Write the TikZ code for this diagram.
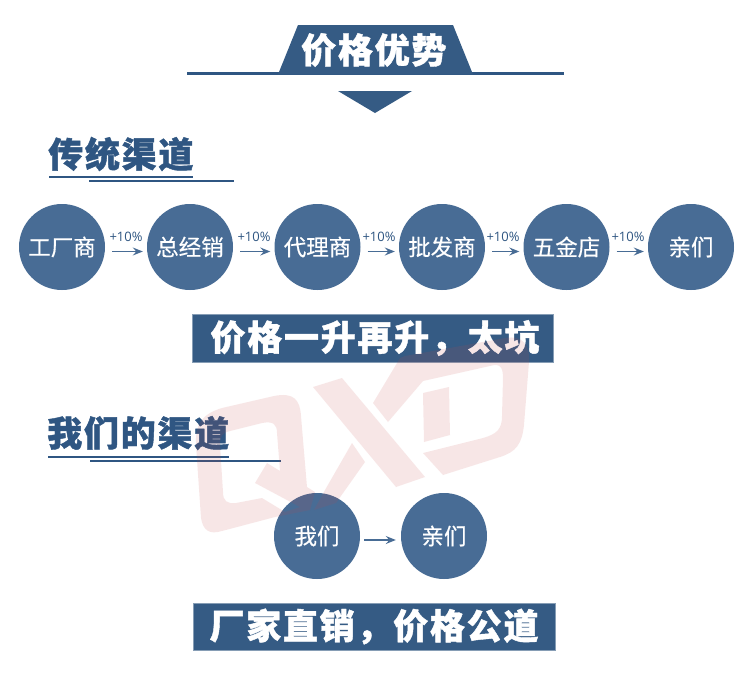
\documentclass[tikz,border=0pt]{standalone}
\usepackage{fontspec}
\usetikzlibrary{arrows.meta}
\setmainfont{Noto Sans CJK SC}
\newfontfamily\headfont[LetterSpace=5,BoldFeatures={FakeBold=1.2}]{Noto Sans CJK SC}
\newfontfamily\discfont[FakeBold=.4]{Noto Sans CJK SC}
\newfontfamily\pctfont{Open Sans}
\definecolor{bandblue}{HTML}{355B84}
\definecolor{discblue}{HTML}{486C95}
\definecolor{headblue}{HTML}{2F5682}
\definecolor{wm}{HTML}{C84444}
\tikzset{
  x=1pt,y=-1pt,
  disc/.style={circle,fill=discblue,minimum size=86pt,inner sep=0pt,text=white,font=\discfont\fontsize{22.5}{23}\selectfont},
  pct/.style={text=headblue,inner sep=0pt,font=\pctfont\fontsize{13}{13}\selectfont},
  flowline/.style={draw=discblue,line width=1.2pt,-{Stealth[length=10pt,width=8pt,inset=3.5pt]}},
  banner/.style={rectangle,fill=bandblue,draw=bandblue!60!white,line width=.6pt,inner sep=0pt,text=white,font=\headfont\bfseries\fontsize{35}{35}\selectfont},
  headtext/.style={inner sep=0pt,anchor=west,text=headblue,font=\headfont\bfseries\fontsize{35}{35}\selectfont},
  ruleline/.style={draw=headblue,line width=1.8pt},
  wmshape/.style={fill=wm,fill opacity=.13,even odd rule}
}
\begin{document}
\begin{tikzpicture}
\useasboundingbox[fill=white] (0,0) rectangle (750,673);
% title
\draw[draw=headblue,line width=2.4pt] (187,73.5) -- (564,73.5);
\fill[bandblue] (298,25) -- (453,25) -- (473,74.5) -- (278,74.5) -- cycle;
\node[headtext,text=white,font=\headfont\bfseries\fontsize{35}{35}\selectfont] (title) at (301,50) {价格优势};
\fill[bandblue] (338,91) -- (412,91) -- (375,113) -- cycle;
% traditional channel
\node[headtext] (h1) at (48,154) {传统渠道};
\draw[ruleline] (49,177) -- (193,177);
\draw[ruleline] (89,181) -- (234,181);
\node[disc] (a) at (62,247) {工厂商};
\node[disc] (b) at (190,247) {总经销};
\node[disc] (c) at (317.5,247) {代理商};
\node[disc] (d) at (442,247) {批发商};
\node[disc] (e) at (566.5,247) {五金店};
\node[disc] (f) at (691,247) {亲们};
\foreach \p/\q/\lx in {a/b/126,b/c/254,c/d/379,d/e/503,e/f/628}{
  \draw[flowline] ([shift={(7pt,-4.5pt)}]\p.east) -- ([shift={(-4pt,-4.5pt)}]\q.west);
  \node[pct] at (\lx,237) {+10\%};
}
\node[banner,minimum width=361pt,minimum height=48pt] (b1) at (372.5,338) {\hspace{5pt}价格一升再升，太坑};
% our channel
\node[headtext] (h2) at (47,433) {我们的渠道};
\draw[ruleline] (48,457) -- (229,457);
\draw[ruleline] (90,461) -- (281,461);
\node[disc] (g) at (317,536) {我们};
\node[disc] (h) at (444,536) {亲们};
\draw[flowline] ([shift={(4pt,-4pt)}]g.east) -- ([shift={(-5pt,-4pt)}]h.west);
\node[banner,minimum width=362pt,minimum height=47pt] (b2) at (374,626.5) {厂家直销，价格公道};
% watermark
\path[wmshape]
  (196,445) .. controls (195,424) and (202,414) .. (222,408) -- (274,396)
  .. controls (294,392) and (300,400) .. (301,416) -- (307,487) -- (315,492) -- (310,510) -- (275,517) -- (222,531)
  .. controls (209,535) and (203,530) .. (201,518) -- cycle
  (220,445) .. controls (220,436) and (222,433) .. (230,431) -- (262,423)
  .. controls (273,421) and (277,424) .. (277,433) -- (280,471) -- (267,463) -- (255,483) -- (300,507) -- (285,512) -- (262,498) -- (236,503)
  .. controls (227,504) and (223,501) .. (223,492) -- cycle;
\path[wmshape] (313,387) -- (342,378) -- (425,477) -- (396,487) -- cycle;
\path[wmshape] (352,443) -- (365,462) -- (336,503) -- (314,510) -- (325,490) -- cycle;
\path[wmshape]
  (373,403) -- (400,358) -- (405,356) -- (505,338) .. controls (523,335) and (530,345) .. (529,362)
  -- (524,425) .. controls (522,444) and (516,452) .. (500,457) -- (443,475) -- (423,453) -- (483,438)
  .. controls (497,434) and (502,429) .. (502,416) -- (503,378) .. controls (503,367) and (500,363) .. (490,366)
  -- (423,381) -- (388,422) -- cycle;
\path[wmshape] (423,393) -- (449,387) -- (450,435) -- (424,442) -- cycle;
\end{tikzpicture}
\end{document}
